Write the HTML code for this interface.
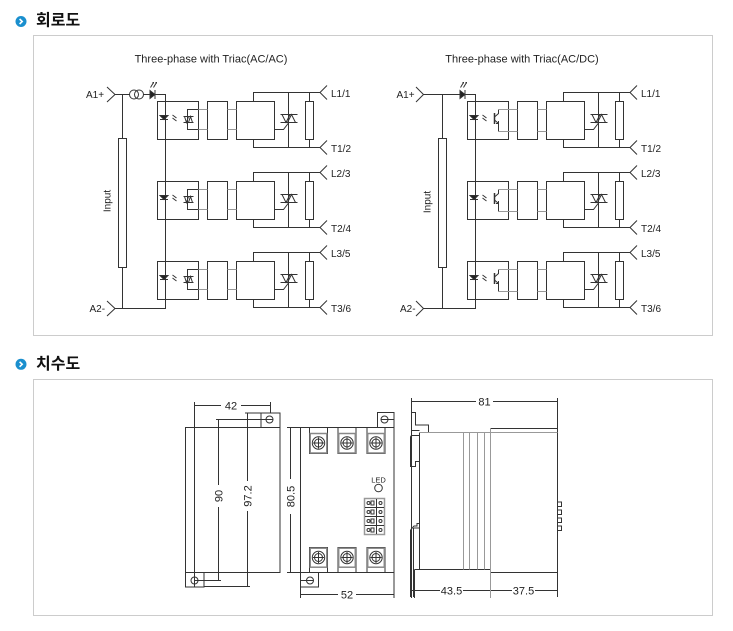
<!DOCTYPE html>
<html><head><meta charset="utf-8">
<style>
html,body{margin:0;padding:0;background:#fff;}
svg{display:block;}
text{font-family:"Liberation Sans",sans-serif;fill:#222;}
.k{font-family:"Liberation Sans","Noto Sans CJK KR",sans-serif;font-weight:bold;font-size:16px;fill:#111;}
.d{fill:none;stroke:#333;stroke-width:1;}
.g{fill:none;stroke:#999;stroke-width:1;}
.lb{font-size:10px;}
.tt{font-size:11px;}
.dm{font-size:11px;}
</style></head><body>
<svg width="733" height="631" viewBox="0 0 733 631" xmlns="http://www.w3.org/2000/svg">
<rect x="0" y="0" width="733" height="631" fill="#fff"/>

<!-- Headings -->
<circle cx="21" cy="21.5" r="5.5" fill="#1a8fce"/>
<path d="M19.6 19L22.2 21.5L19.6 24" fill="none" stroke="#fff" stroke-width="1.6"/>
<text class="k" x="36" y="25.5">회로도</text>
<circle cx="21" cy="364.3" r="5.5" fill="#1a8fce"/>
<path d="M19.6 361.8L22.2 364.3L19.6 366.8" fill="none" stroke="#fff" stroke-width="1.6"/>
<text class="k" x="36" y="368.8">치수도</text>

<!-- Boxes -->
<rect x="33.5" y="35.5" width="679" height="300" fill="none" stroke="#ccc"/>
<rect x="33.5" y="379.5" width="679" height="236" fill="none" stroke="#ccc"/>

<!-- Titles -->
<text class="tt" x="211" y="62.5" text-anchor="middle">Three-phase with Triac(AC/AC)</text>
<text class="tt" x="522" y="62.5" text-anchor="middle">Three-phase with Triac(AC/DC)</text>

<!-- ===== LEFT CIRCUIT ===== -->
<g class="d">
<path d="M107 87L115 94.5L107 102M115 94.5H129.5M143.5 94.5H150M155 94.5H165.5V308.5H115M107 301L115 308.5L107 316M122.5 94.5V138.5M122.5 267.5V308.5M155 90V99"/>
<circle cx="134" cy="94.5" r="4.5"/><circle cx="139" cy="94.5" r="4.5"/>
<path d="M150 90.5V98.5L155 94.5Z" fill="#222"/>
<rect x="118.5" y="138.5" width="8" height="129"/>
<path d="M150.5 87.5L153.5 82.5M153.5 87.5L156.5 82.5M152.5 82.5H153.5V83.5M155.5 82.5H156.5V83.5"/>
</g>
<text class="lb" x="86" y="98">A1+</text>
<text class="lb" x="89.5" y="312">A2-</text>
<text class="lb" transform="translate(110.5,201) rotate(-90)" text-anchor="middle">Input</text>

<!-- left phases -->
<g class="d">
  <g>
    <rect x="157.5" y="101.5" width="41" height="38"/>
    <rect x="207.5" y="101.5" width="20" height="38"/>
    <rect x="236.5" y="101.5" width="38" height="38"/>
    <rect x="305.5" y="101.5" width="8" height="38"/>
    <path d="M253.5 101.5V92.5H320M253.5 139.5V147.5H320M288.5 92.5V147.5M309.5 92.5V101.5M309.5 139.5V147.5M327 85.5L320 92.5L327 99.5M327 140.5L320 147.5L327 154.5M274.5 129.5H283.5L288.5 123M280.5 114.5H297.5M280.5 122.5H297.5M282 114.5L286 122.5L290 114.5M287.5 122.5L291.5 114.5L295.5 122.5M160 119.5H168M172.5 115L176.5 118M172.5 118L176.5 121"/>
    <path d="M160 115.5H168L164 119.5Z" fill="#222"/>
    <rect x="187.5" y="109.5" width="11" height="20"/>
    <path d="M183.5 116.5H193.5M183.5 122.5H193.5M184.5 116.5L186.5 122.5L188.5 116.5M188.5 122.5L190.5 116.5L192.5 122.5"/>
    <path class="g" d="M198.5 109.5H207.5M198.5 129.5H207.5M227.5 109.5H236.5M227.5 129.5H236.5"/>
  </g>
  <g transform="translate(0,80)">
    <rect x="157.5" y="101.5" width="41" height="38"/>
    <rect x="207.5" y="101.5" width="20" height="38"/>
    <rect x="236.5" y="101.5" width="38" height="38"/>
    <rect x="305.5" y="101.5" width="8" height="38"/>
    <path d="M253.5 101.5V92.5H320M253.5 139.5V147.5H320M288.5 92.5V147.5M309.5 92.5V101.5M309.5 139.5V147.5M327 85.5L320 92.5L327 99.5M327 140.5L320 147.5L327 154.5M274.5 129.5H283.5L288.5 123M280.5 114.5H297.5M280.5 122.5H297.5M282 114.5L286 122.5L290 114.5M287.5 122.5L291.5 114.5L295.5 122.5M160 119.5H168M172.5 115L176.5 118M172.5 118L176.5 121"/>
    <path d="M160 115.5H168L164 119.5Z" fill="#222"/>
    <rect x="187.5" y="109.5" width="11" height="20"/>
    <path d="M183.5 116.5H193.5M183.5 122.5H193.5M184.5 116.5L186.5 122.5L188.5 116.5M188.5 122.5L190.5 116.5L192.5 122.5"/>
    <path class="g" d="M198.5 109.5H207.5M198.5 129.5H207.5M227.5 109.5H236.5M227.5 129.5H236.5"/>
  </g>
  <g transform="translate(0,160)">
    <rect x="157.5" y="101.5" width="41" height="38"/>
    <rect x="207.5" y="101.5" width="20" height="38"/>
    <rect x="236.5" y="101.5" width="38" height="38"/>
    <rect x="305.5" y="101.5" width="8" height="38"/>
    <path d="M253.5 101.5V92.5H320M253.5 139.5V147.5H320M288.5 92.5V147.5M309.5 92.5V101.5M309.5 139.5V147.5M327 85.5L320 92.5L327 99.5M327 140.5L320 147.5L327 154.5M274.5 129.5H283.5L288.5 123M280.5 114.5H297.5M280.5 122.5H297.5M282 114.5L286 122.5L290 114.5M287.5 122.5L291.5 114.5L295.5 122.5M160 119.5H168M172.5 115L176.5 118M172.5 118L176.5 121"/>
    <path d="M160 115.5H168L164 119.5Z" fill="#222"/>
    <rect x="187.5" y="109.5" width="11" height="20"/>
    <path d="M183.5 116.5H193.5M183.5 122.5H193.5M184.5 116.5L186.5 122.5L188.5 116.5M188.5 122.5L190.5 116.5L192.5 122.5"/>
    <path class="g" d="M198.5 109.5H207.5M198.5 129.5H207.5M227.5 109.5H236.5M227.5 129.5H236.5"/>
  </g>
</g>
<text class="lb" x="331" y="97">L1/1</text>
<text class="lb" x="331" y="152">T1/2</text>
<text class="lb" x="331" y="177">L2/3</text>
<text class="lb" x="331" y="232">T2/4</text>
<text class="lb" x="331" y="257">L3/5</text>
<text class="lb" x="331" y="312">T3/6</text>

<!-- ===== RIGHT CIRCUIT ===== -->
<g class="d">
<path d="M416 87L423.5 94.5L416 102M423.5 94.5H460M465 94.5H475.5V308.5H423.5M416 301L423.5 308.5L416 316M442.5 94.5V138.5M442.5 267.5V308.5M465 90V99"/>
<path d="M460 90.5V98.5L465 94.5Z" fill="#222"/>
<rect x="438.5" y="138.5" width="8" height="129"/>
<path d="M460.5 87.5L463.5 82.5M463.5 87.5L466.5 82.5M462.5 82.5H463.5V83.5M465.5 82.5H466.5V83.5"/>
</g>
<text class="lb" x="396.5" y="98">A1+</text>
<text class="lb" x="400" y="312">A2-</text>
<text class="lb" transform="translate(430.5,202) rotate(-90)" text-anchor="middle">Input</text>

<g class="d" transform="translate(310,0)">
  <g>
    <rect x="157.5" y="101.5" width="41" height="38"/>
    <rect x="207.5" y="101.5" width="20" height="38"/>
    <rect x="236.5" y="101.5" width="38" height="38"/>
    <rect x="305.5" y="101.5" width="8" height="38"/>
    <path d="M253.5 101.5V92.5H320M253.5 139.5V147.5H320M288.5 92.5V147.5M309.5 92.5V101.5M309.5 139.5V147.5M327 85.5L320 92.5L327 99.5M327 140.5L320 147.5L327 154.5M274.5 129.5H283.5L288.5 123M280.5 114.5H297.5M280.5 122.5H297.5M282 114.5L286 122.5L290 114.5M287.5 122.5L291.5 114.5L295.5 122.5M160 119.5H168M172.5 115L176.5 118M172.5 118L176.5 121"/>
    <path d="M160 115.5H168L164 119.5Z" fill="#222"/>
    <path d="M184.5 113V124" stroke-width="1.5"/>
    <path d="M184.5 117L188.5 113.5V109.5M184.5 120L188.5 123.5V131.5M186 123.5H188.5V121"/>
    <path class="g" d="M188.5 109.5H207.5M188.5 131.5H207.5M227.5 109.5H236.5M227.5 131.5H236.5"/>
  </g>
  <g transform="translate(0,80)">
    <rect x="157.5" y="101.5" width="41" height="38"/>
    <rect x="207.5" y="101.5" width="20" height="38"/>
    <rect x="236.5" y="101.5" width="38" height="38"/>
    <rect x="305.5" y="101.5" width="8" height="38"/>
    <path d="M253.5 101.5V92.5H320M253.5 139.5V147.5H320M288.5 92.5V147.5M309.5 92.5V101.5M309.5 139.5V147.5M327 85.5L320 92.5L327 99.5M327 140.5L320 147.5L327 154.5M274.5 129.5H283.5L288.5 123M280.5 114.5H297.5M280.5 122.5H297.5M282 114.5L286 122.5L290 114.5M287.5 122.5L291.5 114.5L295.5 122.5M160 119.5H168M172.5 115L176.5 118M172.5 118L176.5 121"/>
    <path d="M160 115.5H168L164 119.5Z" fill="#222"/>
    <path d="M184.5 113V124" stroke-width="1.5"/>
    <path d="M184.5 117L188.5 113.5V109.5M184.5 120L188.5 123.5V131.5M186 123.5H188.5V121"/>
    <path class="g" d="M188.5 109.5H207.5M188.5 131.5H207.5M227.5 109.5H236.5M227.5 131.5H236.5"/>
  </g>
  <g transform="translate(0,160)">
    <rect x="157.5" y="101.5" width="41" height="38"/>
    <rect x="207.5" y="101.5" width="20" height="38"/>
    <rect x="236.5" y="101.5" width="38" height="38"/>
    <rect x="305.5" y="101.5" width="8" height="38"/>
    <path d="M253.5 101.5V92.5H320M253.5 139.5V147.5H320M288.5 92.5V147.5M309.5 92.5V101.5M309.5 139.5V147.5M327 85.5L320 92.5L327 99.5M327 140.5L320 147.5L327 154.5M274.5 129.5H283.5L288.5 123M280.5 114.5H297.5M280.5 122.5H297.5M282 114.5L286 122.5L290 114.5M287.5 122.5L291.5 114.5L295.5 122.5M160 119.5H168M172.5 115L176.5 118M172.5 118L176.5 121"/>
    <path d="M160 115.5H168L164 119.5Z" fill="#222"/>
    <path d="M184.5 113V124" stroke-width="1.5"/>
    <path d="M184.5 117L188.5 113.5V109.5M184.5 120L188.5 123.5V131.5M186 123.5H188.5V121"/>
    <path class="g" d="M188.5 109.5H207.5M188.5 131.5H207.5M227.5 109.5H236.5M227.5 131.5H236.5"/>
  </g>
</g>
<text class="lb" x="641" y="97">L1/1</text>
<text class="lb" x="641" y="152">T1/2</text>
<text class="lb" x="641" y="177">L2/3</text>
<text class="lb" x="641" y="232">T2/4</text>
<text class="lb" x="641" y="257">L3/5</text>
<text class="lb" x="641" y="312">T3/6</text>

<!-- ===== DIMENSION DRAWING ===== -->
<!-- Left view -->
<g class="d">
<rect x="185.5" y="427.5" width="94.5" height="145"/>
<rect x="261" y="413" width="19" height="14.5"/>
<circle cx="269.5" cy="419.5" r="3.5"/>
<rect x="185.5" y="572.5" width="18.5" height="14.5"/>
<circle cx="194.5" cy="580.5" r="3.5"/>
<path d="M194.5 402V587M270.5 402V413M194.5 405.5H270.5M218.5 419.5V580.5M216 419.5H273M194.5 580.5H221M247.5 413V586.5M245 413H261M204 586.5H250"/>
</g>
<rect x="221" y="399" width="20" height="13" fill="#fff"/>
<text class="dm" x="231" y="409.5" text-anchor="middle">42</text>
<rect x="212" y="485" width="13" height="22" fill="#fff"/>
<text class="dm" transform="translate(222.5,496) rotate(-90)" text-anchor="middle">90</text>
<rect x="241" y="481" width="13" height="30" fill="#fff"/>
<text class="dm" transform="translate(251.5,496) rotate(-90)" text-anchor="middle">97.2</text>

<!-- Front view -->
<g class="d">
<rect x="300.5" y="427.5" width="93.5" height="145"/>
<rect x="377.5" y="412.5" width="16.5" height="15"/>
<circle cx="384.5" cy="419.5" r="3.5"/>
<path d="M381 419.5H394"/>
<rect x="300.5" y="572.5" width="18" height="14.5"/>
<circle cx="310" cy="580.5" r="3.5"/>
<path d="M300.5 580.5H313.5"/>
<path d="M290.5 427.5V572.5M287 427.5H300M287 572.5H300M300.5 587V598M394 572.5V598M300.5 594.5H394"/>
</g>
<rect x="285" y="479" width="12" height="35" fill="#fff"/>
<text class="dm" transform="translate(294.5,496.5) rotate(-90)" text-anchor="middle">80.5</text>
<rect x="338" y="588" width="18" height="13" fill="#fff"/>
<text class="dm" x="347" y="598.5" text-anchor="middle">52</text>

<!-- terminals top -->
<g class="d">
  <rect x="309.5" y="427.5" width="18" height="26"/>
  <rect x="310.2" y="433.5" width="16.6" height="19.5" stroke="#888" stroke-width="1.5"/>
  <circle cx="318.5" cy="443" r="6.2"/><circle cx="318.5" cy="443" r="4"/><path d="M313 443H324M318.5 437.5V448.5"/>
  <rect x="338" y="427.5" width="18" height="26"/>
  <rect x="338.7" y="433.5" width="16.6" height="19.5" stroke="#888" stroke-width="1.5"/>
  <circle cx="347" cy="443" r="6.2"/><circle cx="347" cy="443" r="4"/><path d="M341.5 443H352.5M347 437.5V448.5"/>
  <rect x="367" y="427.5" width="18" height="26"/>
  <rect x="367.7" y="433.5" width="16.6" height="19.5" stroke="#888" stroke-width="1.5"/>
  <circle cx="376" cy="443" r="6.2"/><circle cx="376" cy="443" r="4"/><path d="M370.5 443H381.5M376 437.5V448.5"/>
</g>
<!-- terminals bottom -->
<g class="d">
  <rect x="309.5" y="547.5" width="18" height="25"/>
  <rect x="310.2" y="548.2" width="16.6" height="19" stroke="#888" stroke-width="1.5"/>
  <circle cx="318.5" cy="557.5" r="6.2"/><circle cx="318.5" cy="557.5" r="4"/><path d="M313 557.5H324M318.5 552V563"/>
  <rect x="338" y="547.5" width="18" height="25"/>
  <rect x="338.7" y="548.2" width="16.6" height="19" stroke="#888" stroke-width="1.5"/>
  <circle cx="347" cy="557.5" r="6.2"/><circle cx="347" cy="557.5" r="4"/><path d="M341.5 557.5H352.5M347 552V563"/>
  <rect x="367" y="547.5" width="18" height="25"/>
  <rect x="367.7" y="548.2" width="16.6" height="19" stroke="#888" stroke-width="1.5"/>
  <circle cx="376" cy="557.5" r="6.2"/><circle cx="376" cy="557.5" r="4"/><path d="M370.5 557.5H381.5M376 552V563"/>
</g>
<!-- LED and connector -->
<text x="378.5" y="482.5" text-anchor="middle" style="font-size:7.5px">LED</text>
<circle class="d" cx="378.5" cy="488" r="3.8"/>
<rect x="364.5" y="498.5" width="20" height="36" fill="none" stroke="#999" stroke-width="1.5"/>
<g class="d" stroke-width="0.8">
  <path d="M365 507.5H384M365 516.5H384M365 525.5H384M376.5 499V534"/>
  <circle cx="368.5" cy="503" r="1.5"/><rect x="371" y="501" width="3" height="4"/><circle cx="380.5" cy="503" r="1.5"/>
  <circle cx="368.5" cy="512" r="1.5"/><rect x="371" y="510" width="3" height="4"/><circle cx="380.5" cy="512" r="1.5"/>
  <circle cx="368.5" cy="521" r="1.5"/><rect x="371" y="519" width="3" height="4"/><circle cx="380.5" cy="521" r="1.5"/>
  <circle cx="368.5" cy="530" r="1.5"/><rect x="371" y="528" width="3" height="4"/><circle cx="380.5" cy="530" r="1.5"/>
</g>

<!-- Side view -->
<g class="d">
<path d="M411.5 398V598M557.5 398V428.5M411.5 401.5H557.5M557.5 572.5V597M411.5 590.5H557.5"/>
<path d="M419.5 432.5V569.5M414.5 569.5H490.5M414.5 569.5V598"/>
<path d="M490.5 428.5H557.5V572.5H490.5"/>
<path d="M411.5 412.5H415.5V425H428.5V432.5M411.5 412.5V430.5H419.5"/>
<path d="M419.5 435.5H412.5Q410.5 435.5 410.5 437.5V466.5H415.5V461.5H419.5"/>
<path d="M410.5 530V597M413.5 528V597M410.5 530L414 526H417V523.5H419.5M413.5 528H419.5"/>
<rect x="557.5" y="502" width="4" height="4.5"/>
<rect x="557.5" y="510" width="4" height="4.5"/>
<rect x="557.5" y="518" width="4" height="4.5"/>
<rect x="557.5" y="526" width="4" height="4.5"/>
</g>
<g class="g">
<path d="M420 432.5H557.5M463.5 432.5V569.5M469.5 432.5V569.5M477.5 432.5V569.5M484.5 432.5V569.5M490.5 428.5V598"/>
</g>
<rect x="476" y="396" width="17" height="12" fill="#fff"/>
<text class="dm" x="484.5" y="405.5" text-anchor="middle">81</text>
<rect x="440" y="585" width="23" height="12" fill="#fff"/>
<text class="dm" x="451.5" y="594.5" text-anchor="middle">43.5</text>
<rect x="512" y="585" width="23" height="12" fill="#fff"/>
<text class="dm" x="523.5" y="594.5" text-anchor="middle">37.5</text>

</svg>
</body></html>
